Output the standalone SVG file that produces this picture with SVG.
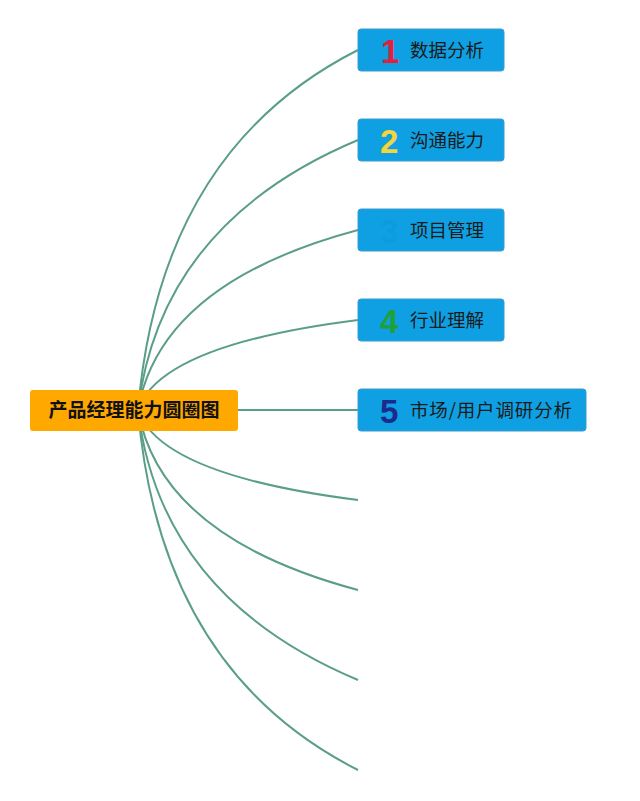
<svg xmlns="http://www.w3.org/2000/svg" width="640" height="801" viewBox="0 0 640 801">
<style>
.link{fill:none;stroke:#5b9e88;stroke-width:2;}
.topic{fill:#0ea0e2;stroke:#3a9ccc;stroke-width:1;}
.central{fill:#ffa800;}
.label{font-family:"Noto Sans CJK SC","Noto Sans",sans-serif;font-size:18.5px;fill:#1a1a1a;}
.ctext{font-family:"Noto Sans CJK SC","Noto Sans",sans-serif;font-size:19px;font-weight:bold;fill:#111;}
.num{font-family:"Liberation Sans","Noto Sans",sans-serif;font-size:33px;font-weight:bold;}
</style>
<rect width="640" height="801" fill="#ffffff"/>
<g id="connectors">
<path class="link" d="M138 410 Q160 150 358 50"/>
<path class="link" d="M138 410 Q160 223 358 140"/>
<path class="link" d="M138 410 Q160 283 358 230"/>
<path class="link" d="M138 410 Q160 345 358 320"/>
<path class="link" d="M238 410 L358 410"/>
<path class="link" d="M138 410 Q160 475 358 500"/>
<path class="link" d="M138 410 Q160 537 358 590"/>
<path class="link" d="M138 410 Q160 597 358 680"/>
<path class="link" d="M138 410 Q160 670 358 770"/>
</g>
<g id="central">
<rect class="central" x="30" y="390" width="208" height="41" rx="3"/>
<text class="ctext" x="134" y="417" text-anchor="middle">产品经理能力圆圈图</text>
</g>
<g id="node1">
<rect class="topic" x="358" y="29" width="146" height="42" rx="3"/>
<text class="num" x="381" y="63" fill="#e3203c">1</text>
<text class="label" x="410" y="57">数据分析</text>
</g>
<g id="node2">
<rect class="topic" x="358" y="119" width="146" height="42" rx="3"/>
<text class="num" x="380" y="153" fill="#f5d43c">2</text>
<text class="label" x="410" y="147">沟通能力</text>
</g>
<g id="node3">
<rect class="topic" x="358" y="209" width="146" height="42" rx="3"/>
<text class="num" x="380" y="243" fill="#0c9cdd">3</text>
<text class="label" x="410" y="237">项目管理</text>
</g>
<g id="node4">
<rect class="topic" x="358" y="299" width="146" height="42" rx="3"/>
<text class="num" x="380" y="333" fill="#1fa03a">4</text>
<text class="label" x="410" y="327">行业理解</text>
</g>
<g id="node5">
<rect class="topic" x="358" y="389" width="228" height="42" rx="3"/>
<text class="num" x="380" y="423" fill="#1c2a8c">5</text>
<text class="label" x="410" y="417" textLength="162" lengthAdjust="spacing">市场/用户调研分析</text>
</g>
</svg>
